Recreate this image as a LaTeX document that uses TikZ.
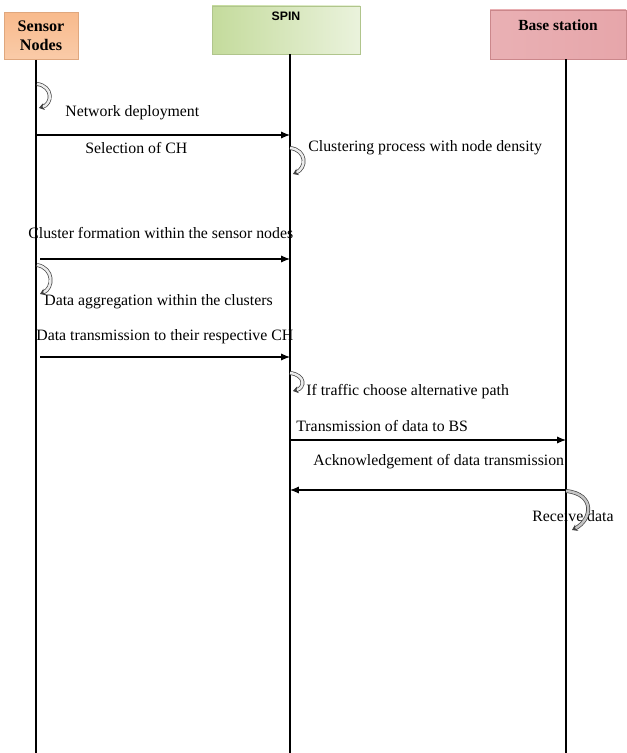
\documentclass[tikz,border=0pt]{standalone}
\usepackage{fontspec}
\setmainfont{Liberation Serif}
\newfontfamily\hdsans{Liberation Sans}
\usetikzlibrary{arrows.meta}
\usetikzlibrary{positioning}

\definecolor{snfill}{RGB}{248,186,140}
\definecolor{spinfill}{RGB}{196,219,156}
\definecolor{bsfill}{RGB}{226,150,155}

\tikzset{
  head/.style={rectangle,inner sep=0pt,font=\bfseries\fontsize{9.2}{11}\selectfont,align=center},
  lifeline/.style={line width=0.8pt},
  msg/.style={line width=0.6pt,-{Latex[length=5pt,width=4pt]}},
  selfloop/.style={draw=black!75,double=gray!15,double distance=1.4pt,line width=0.4pt,-{Stealth[length=3pt,width=4pt]}},
  msgtext/.style={font=\fontsize{9}{11}\selectfont,anchor=west,inner sep=0pt}
}

\begin{document}
\begin{tikzpicture}[x=0.02cm,y=-0.02cm]
\useasboundingbox (0,0) rectangle (626,753);
\node[head,draw=snfill!90!black,top color=snfill,bottom color=snfill!75!white,minimum width=74*0.02cm,minimum height=47*0.02cm] (sensor) at (41,36) {Sensor\\Nodes};
\node[head,draw=spinfill!90!black,left color=spinfill,right color=spinfill!35!white,font=\hdsans\bfseries\fontsize{7}{8}\selectfont,minimum width=148*0.02cm,minimum height=48*0.02cm,text depth=28*0.02cm] (spin) at (286,30) {SPIN};
\node[head,font=\bfseries\fontsize{8.8}{10}\selectfont,draw=bsfill!90!black,left color=bsfill!75!white,middle color=bsfill!30!white,right color=bsfill!85!white,minimum width=136*0.02cm,minimum height=49*0.02cm,text depth=18*0.02cm] (bs) at (558,34.5) {Base station};

\coordinate (snB) at (36,753);
\coordinate (spB) at (290,753);
\coordinate (bsB) at (566,753);
\draw[lifeline] (snB|-sensor.south) -- (snB);
\draw[lifeline] (spB|-spin.south) -- (spB);
\draw[lifeline] (bsB|-bs.south) -- (bsB);

\draw[selfloop] (37,84) .. controls (53,86) and (53,104) .. (39,108);
\node[msgtext] (deploy) at (65,113) {Network deployment};
\draw[msg] (snB|-0,135) -- (spB|-0,135);
\node[msgtext] (selch) at (85,148) {Selection of CH};
\draw[selfloop] (290,148) .. controls (307,150) and (307,168) .. (293,174);
\node[msgtext] (clproc) at (308,148) {Clustering process with node density};

\node[msgtext] (clform) at (28,233) {Cluster formation within the sensor nodes};
\draw[msg] (40,259) -- (spB|-0,259);
\draw[selfloop] (37,265) .. controls (54,268) and (54,288) .. (40,294);
\node[msgtext] (aggr) at (44,302) {Data aggregation within the clusters};
\node[msgtext] (trans) at (36,337) {Data transmission to their respective CH};
\draw[msg] (40,357) -- (spB|-0,357);

\draw[selfloop] (290,373) .. controls (306,375) and (305,388) .. (293,391);
\node[msgtext] (traffic) at (306,392) {If traffic choose alternative path};
\node[msgtext] (tobs) at (296,426) {Transmission of data to BS};
\draw[msg] (spB|-0,440) -- (bsB|-0,440);
\node[msgtext] (ack) at (313,462) {Acknowledgement of data transmission};
\draw[msg] (bsB|-0,490) -- (spB|-0,490);
\node[msgtext] (recv) at (532,516) {Receive data};
\draw[selfloop,double=gray!45] (566,491) .. controls (596,494) and (592,520) .. (572,530);

\end{tikzpicture}
\end{document}
